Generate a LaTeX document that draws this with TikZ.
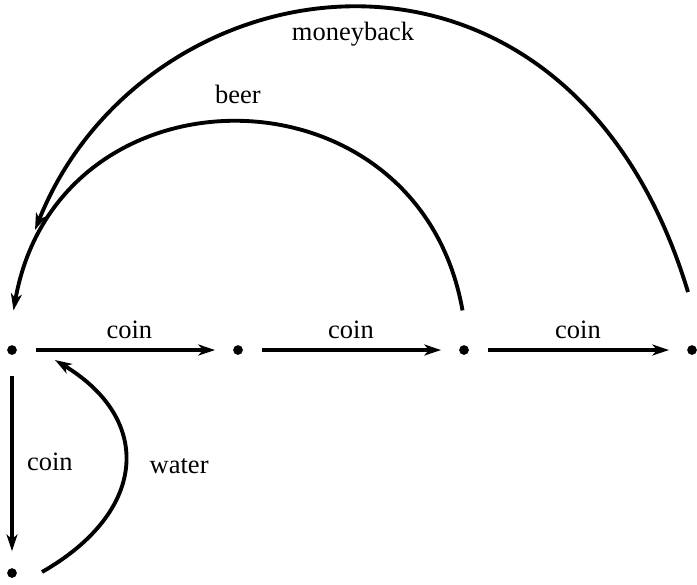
\documentclass[tikz,border=0pt]{standalone}
\usepackage{fontspec}
\setmainfont{Liberation Serif}
\usetikzlibrary{arrows.meta, calc}

\begin{document}
\begin{tikzpicture}[x=0.453pt, y=-0.453pt,
			state/.style={circle, fill=black, inner sep=0pt, outer sep=0pt, minimum size=4.4pt},
			trans/.style={->, line width=1.75pt},
			>={Stealth[length=7.6pt, width=5pt, inset=2.2pt]},   %Pfeilspitzen
			font=\fontsize{12}{14}\selectfont]
			%Rahmen
			\useasboundingbox (0,0) rectangle (697,584);
			% Zustaende
			\node[state] (q0) at (12,350) {};
			\node[state] (q1) at (238,350) {};
			\node[state] (q2) at (464,350) {};
			\node[state] (q3) at (692,350) {};
			\node[state] (q4) at (12,573) {};
			% Enden der Boegen
			\coordinate (beer-a) at ($(q2)+(-1.5,-39.6)$);
			\coordinate (beer-b) at ($(q0)+(1.5,-39.6)$);
			\coordinate (back-a) at ($(q3)+(-4,-58)$);
			\coordinate (back-b) at ($(q0)+(23,-120)$);
			\coordinate (water-a) at ($(q4)+(30,-1)$);
			\coordinate (water-b) at ($(q0)+(43,10)$);
			% Uebergaenge mit coin
			\draw[trans, shorten <=8.6pt, shorten >=8.2pt] (q0) -- node[above=1pt, xshift=2pt] {coin} (q1);
			\draw[trans, shorten <=8.6pt, shorten >=8.2pt] (q1) -- node[above=1pt] {coin} (q2);
			\draw[trans, shorten <=8.6pt, shorten >=8.2pt] (q2) -- node[above=1pt] {coin} (q3);
			\draw[trans, shorten <=9.5pt, shorten >=7.7pt] (q0) -- node[right=2.6pt] {coin} (q4);
			% Rueckwege
			\draw[trans] (beer-a) .. controls +(-44.3,-251.1) and +(44.3,-251.1) .. node[above=4pt] {beer} (beer-b);
			\draw[trans] (back-a) .. controls +(-121,-401) and +(110,-275) .. node[below=2.6pt, xshift=-2pt] {moneyback} (back-b);
			\draw[trans] (water-a) .. controls +(105,-60) and +(99,60) .. node[right=7pt] {water} (water-b);
		\end{tikzpicture}
\end{document}
